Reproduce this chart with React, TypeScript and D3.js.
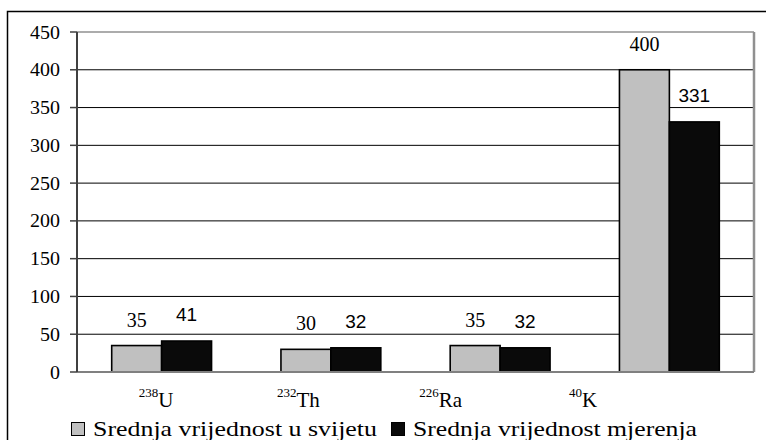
import React from "react";
import * as d3 from "d3";

const categories = ["U", "Th", "Ra", "K"];
const isotopes = ["238", "232", "226", "40"];
const seriesNames = ["Srednja vrijednost u svijetu", "Srednja vrijednost mjerenja"];
const worldValues = [35, 30, 35, 400];
const measuredValues = [41, 32, 32, 331];
const yTicks = [0, 50, 100, 150, 200, 250, 300, 350, 400, 450];

const W = 766;
const H = 440;
const plotLeft = 77;
const plotRight = 754;
const plotTop = 32;
const plotBottom = 372;

const serif = "'Liberation Serif', 'DejaVu Serif', 'Times New Roman', serif";
const sans = "'Liberation Sans', Arial, Helvetica, sans-serif";
const fills = ["#c0c0c0", "#0a0a0a"];

export default function App() {
  const x = d3
    .scaleBand<string>()
    .domain(categories)
    .range([plotLeft, plotRight])
    .paddingInner(0.41)
    .paddingOuter(0.205);
  const xs = d3.scaleBand<string>().domain(["w", "m"]).range([0, x.bandwidth()]);
  const y = d3.scaleLinear().domain([0, 450]).range([plotBottom, plotTop]);
  const labelX = d3.scalePoint<string>().domain(categories).range([plotLeft + 79, plotLeft + 506]);

  const series = [worldValues, measuredValues];
  const keys = ["w", "m"];

  return (
    <div style={{ position: "absolute", left: 0, top: 0, fontFamily: serif }}>
      <svg width={W} height={H} style={{ display: "block", background: "#fff" }}>
        <rect x={0} y={0} width={W} height={H} fill="#fff" />
        <rect x={7.5} y={11.5} width={900} height={600} fill="none" stroke="#000" strokeWidth={1.5} />

        {yTicks.map((t) =>
          t === 0 ? null : (
            <line
              key={"g" + t}
              x1={plotLeft}
              x2={plotRight}
              y1={y(t)}
              y2={y(t)}
              stroke={t === 450 ? "#909090" : "#000"}
              strokeWidth={t === 450 ? 1.5 : 1}
            />
          )
        )}
        <line x1={plotRight} x2={plotRight} y1={plotTop} y2={plotBottom} stroke="#909090" strokeWidth={2.5} />

        {categories.map((c, i) =>
          keys.map((k, j) => {
            const v = series[j][i];
            const bx = (x(c) as number) + (xs(k) as number);
            return (
              <rect
                key={c + k}
                x={bx}
                y={y(v)}
                width={xs.bandwidth()}
                height={y(0) - y(v)}
                fill={fills[j]}
                stroke="#000"
                strokeWidth={1.6}
              />
            );
          })
        )}

        {categories.map((c, i) =>
          keys.map((k, j) => {
            const v = series[j][i];
            const cx = (x(c) as number) + (xs(k) as number) + xs.bandwidth() / 2;
            return (
              <text
                key={"l" + c + k}
                x={cx}
                y={y(v) - (j === 0 ? 19 : 20)}
                textAnchor="middle"
                fontFamily={j === 0 ? serif : sans}
                fontSize={j === 0 ? 20 : 19}
                fill="#000"
              >
                {v}
              </text>
            );
          })
        )}

        <line x1={plotLeft} x2={plotRight} y1={plotBottom} y2={plotBottom} stroke="#808080" strokeWidth={2} />
        <line x1={plotLeft} x2={plotLeft} y1={plotTop} y2={plotBottom} stroke="#404040" strokeWidth={2} />
        {yTicks.map((t) => (
          <g key={"t" + t}>
            <line x1={plotLeft - 7} x2={plotLeft} y1={y(t)} y2={y(t)} stroke="#404040" strokeWidth={1.5} />
            <text
              transform={`translate(60,${y(t) + 6.5}) scale(1.05,1)`}
              textAnchor="end"
              fontFamily={serif}
              fontSize={19}
              fill="#000"
            >
              {t}
            </text>
          </g>
        ))}

        {categories.map((c, i) => (
          <text
            key={"c" + c}
            x={labelX(c)}
            y={406.5}
            textAnchor="middle"
            fontFamily={serif}
            fontSize={21}
            fill="#000"
          >
            <tspan fontSize={13} dy={-10}>
              {isotopes[i]}
            </tspan>
            <tspan dy={10}>{c}</tspan>
          </text>
        ))}

        {seriesNames.map((name, j) => {
          const lx = j === 0 ? 71 : 391;
          return (
            <g key={"leg" + j}>
              <rect x={lx + 0.5} y={422.5} width={13} height={13} fill={fills[j]} stroke="#000" strokeWidth={1} />
              <text
                x={lx + 22}
                y={436}
                fontFamily={serif}
                fontSize={21}
                fill="#000"
                textLength={284}
                lengthAdjust="spacingAndGlyphs"
              >
                {name}
              </text>
            </g>
          );
        })}
      </svg>
    </div>
  );
}
